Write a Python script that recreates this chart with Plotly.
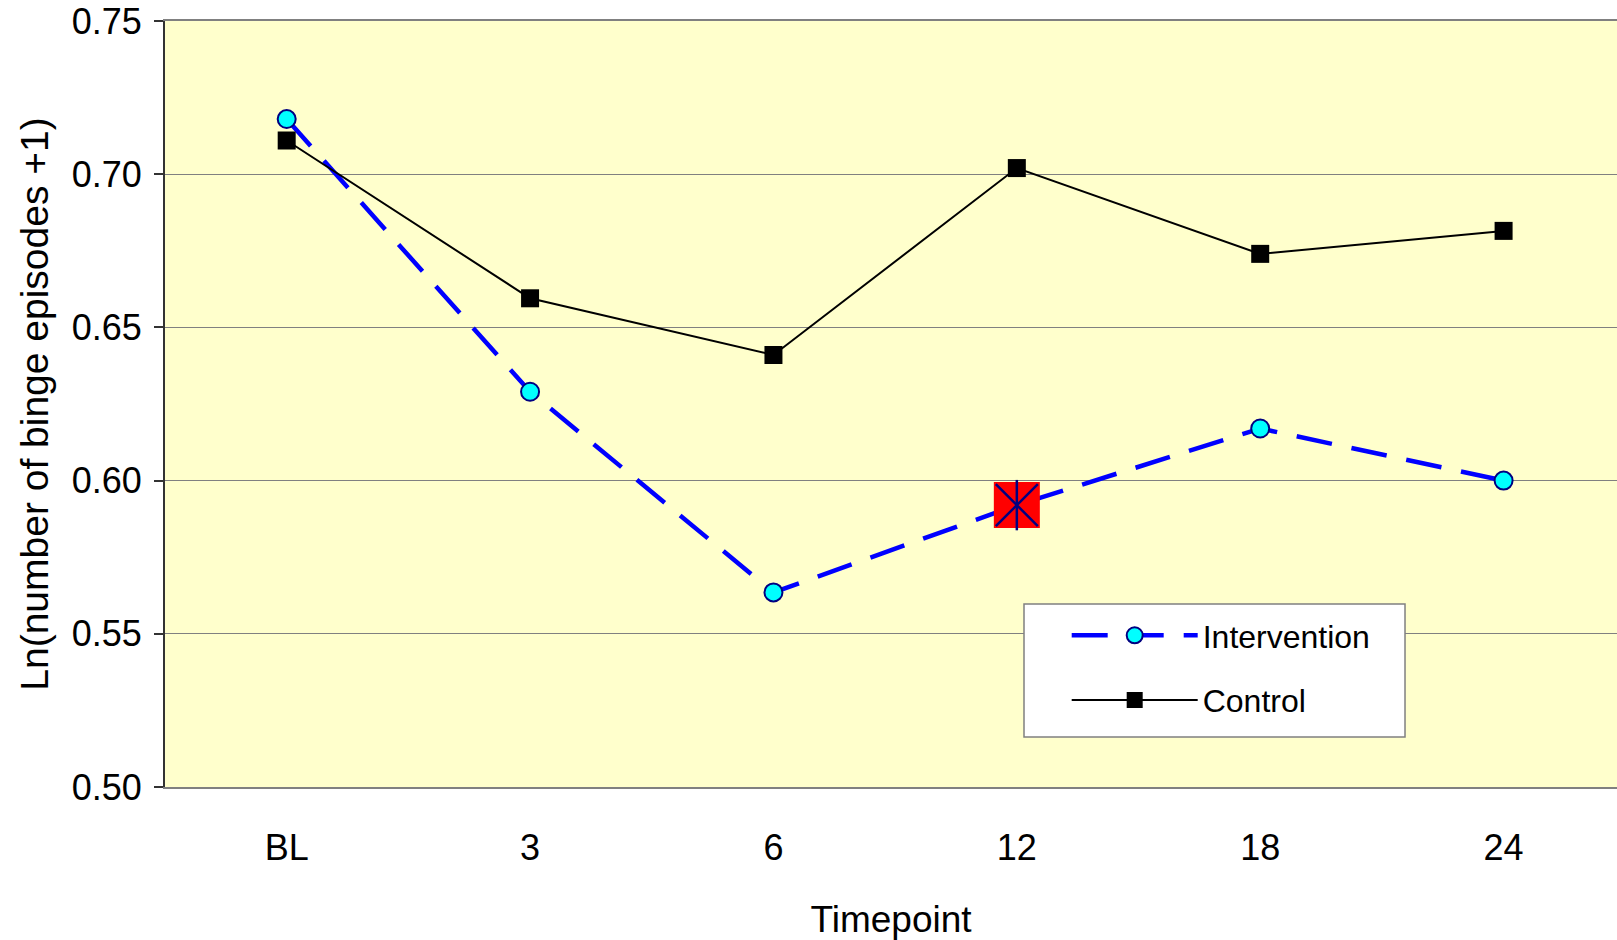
import plotly.graph_objects as go

categories = ["BL", "3", "6", "12", "18", "24"]
intervention = [0.718, 0.629, 0.5635, 0.592, 0.617, 0.600]
control = [0.711, 0.6595, 0.641, 0.702, 0.674, 0.6815]
highlight_index = 3

FONT = "Liberation Sans, Arial, sans-serif"

fig = go.Figure()

fig.add_trace(go.Scatter(
    x=categories, y=intervention, name="Intervention", mode="lines+markers",
    line=dict(color="#0000FF", width=4.5, dash="36px,20px"),
    marker=dict(symbol="circle", size=18, color="#00FFFF",
                line=dict(color="#000080", width=2)),
    legendgroup="a",
))
fig.add_trace(go.Scatter(
    x=categories, y=control, name="Control", mode="lines+markers",
    line=dict(color="black", width=2),
    marker=dict(symbol="square", size=18, color="black"),
    legendgroup="b",
))
hx = [categories[highlight_index]]
hy = [intervention[highlight_index]]
fig.add_trace(go.Scatter(
    x=hx, y=hy, mode="markers", showlegend=False, hoverinfo="skip",
    marker=dict(symbol="square", size=46, color="#FF0000"),
))
fig.add_trace(go.Scatter(
    x=hx, y=hy, mode="markers", showlegend=False, hoverinfo="skip",
    marker=dict(symbol="x-thin-open", size=42, color="#000080",
                line=dict(color="#000080", width=2.5)),
))
fig.add_trace(go.Scatter(
    x=hx, y=hy, mode="markers", showlegend=False, hoverinfo="skip",
    marker=dict(symbol="line-ns-open", size=36, color="#000080",
                line=dict(color="#000080", width=2.5)),
))

# legend box (white, grey border)
fig.add_shape(type="rect", xref="paper", yref="paper",
              x0=0.5916, x1=0.854, y0=0.0653, y1=0.2389,
              fillcolor="white", line=dict(color="#808080", width=1.5),
              layer="above")

fig.update_layout(
    width=1617, height=940,
    margin=dict(l=165, r=0, t=21, b=153),
    paper_bgcolor="white", plot_bgcolor="#FFFFCC",
    font=dict(family=FONT, color="black", size=36),
    showlegend=True,
    legend=dict(
        x=0.621, y=0.2337, xanchor="left", yanchor="top",
        bgcolor="rgba(0,0,0,0)", borderwidth=0,
        font=dict(family=FONT, size=32, color="black"),
        itemwidth=126, traceorder="grouped", tracegroupgap=20,
        itemclick=False,
    ),
)
fig.update_xaxes(
    type="category", categoryorder="array", categoryarray=categories,
    range=[-0.5, 5.466], showgrid=False, zeroline=False,
    showline=True, linecolor="#808080", linewidth=2, mirror=True,
    ticks="", ticklabelstandoff=28,
    tickfont=dict(family=FONT, size=36, color="black"),
    title=dict(text="Timepoint", standoff=40,
               font=dict(family=FONT, size=37, color="black")),
)
fig.update_yaxes(
    range=[0.5, 0.75], dtick=0.05, tick0=0.5, tickformat=".2f",
    showgrid=True, gridcolor="#808080", gridwidth=1, zeroline=False,
    showline=True, linecolor="#333333", linewidth=2,
    ticks="outside", ticklen=9, tickcolor="#333333", tickwidth=1.5,
    ticklabelstandoff=5,
    tickfont=dict(family=FONT, size=36, color="black"),
    title=dict(text="Ln(number of binge episodes +1)", standoff=11,
               font=dict(family=FONT, size=39, color="black")),
)

fig.write_html("out.html")
